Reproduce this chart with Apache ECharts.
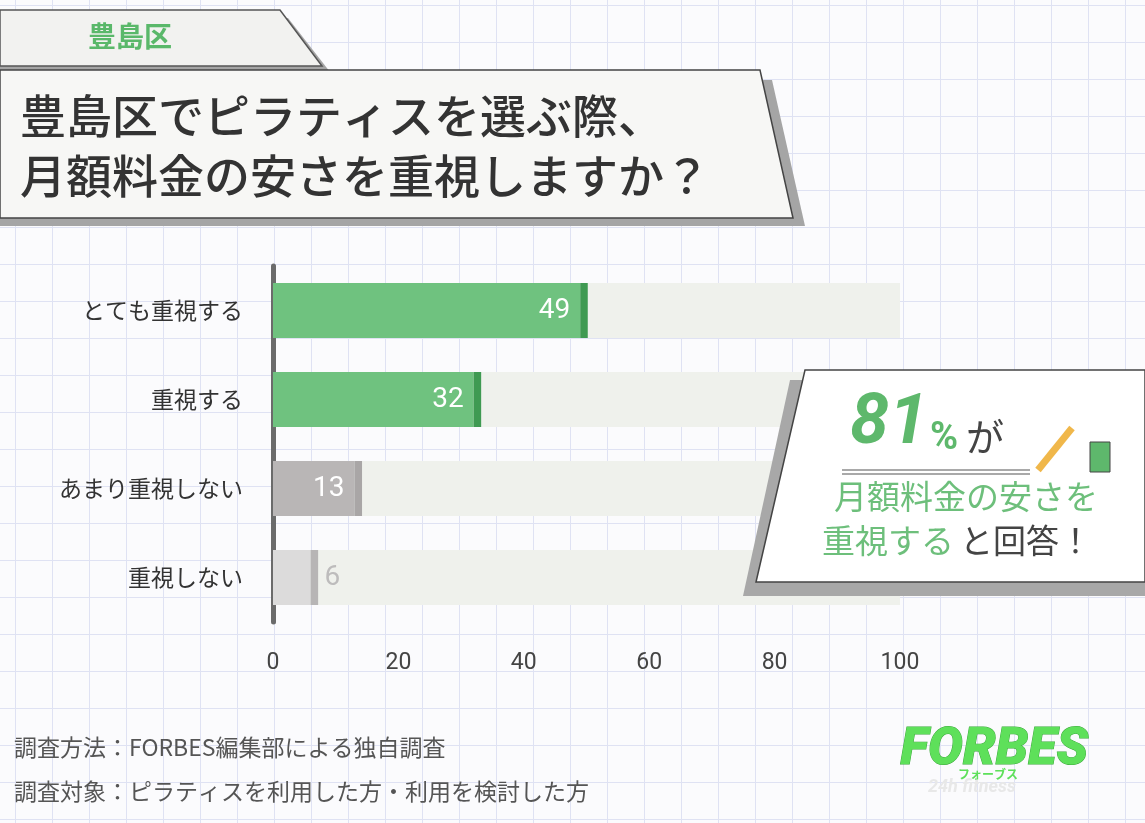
<!DOCTYPE html>
<html><head><meta charset="utf-8">
<script src="https://cdn.jsdelivr.net/npm/echarts@6/dist/echarts.min.js"></script>
<style>
html,body{margin:0;padding:0;}
#c{width:1145px;height:823px;background-color:#fbfbfd;
background-image:linear-gradient(#dfe2f3 1px,transparent 1px),linear-gradient(90deg,#dfe2f3 1px,transparent 1px);
background-size:37px 37px;background-position:15px 5px;}
</style></head><body><div id="c"></div>
<script>
const categories=['とても重視する','重視する','あまり重視しない','重視しない'];
const values=[49,32,13,6];
const tickLabels=['0','20','40','60','80','100'];
const fillColors=['#6fc27f','#6fc27f','#b9b6b6','#dcdbdb'];
const capColors=['#3f9a52','#3f9a52','#a9a6a6','#b7b5b5'];
const labelColors=['#ffffff','#ffffff','#ffffff','#bdbcbc'];
const F='"Noto Sans CJK JP","Noto Sans",sans-serif';
const chart=echarts.init(document.getElementById('c'));
chart.setOption({
 animation:false,
 grid:{left:273,top:266,width:627,height:356},
 xAxis:{type:'value',min:0,max:100,interval:20,
  axisLabel:{fontFamily:'Roboto',fontSize:23,color:'#444',margin:30,formatter:v=>tickLabels[v/20]},
  splitLine:{show:false},axisLine:{show:false},axisTick:{show:false}},
 yAxis:{type:'category',inverse:true,data:categories,
  axisLine:{show:true,lineStyle:{color:'#6b6b6b',width:5}},axisTick:{show:false},
  axisLabel:{fontFamily:F,fontSize:23,color:'#333',margin:30}},
 series:[
  {type:'bar',barWidth:55,barGap:'-100%',silent:true,z:1,
   data:values.map(()=>101),itemStyle:{color:'#eff1ec'}},
  {type:'bar',stack:'s',barWidth:55,z:2,
   data:values.map((v,i)=>({value:v,itemStyle:{color:fillColors[i]},
     label:{show:true,position:i===3?'right':'insideRight',distance:i===3?14:10,
       color:labelColors[i],fontFamily:'Roboto',fontSize:28}}))},
  {type:'bar',stack:'s',barWidth:55,z:2,
   data:values.map((v,i)=>({value:1.2,itemStyle:{color:capColors[i]}}))}
 ],
 graphic:[
  {type:'polygon',z:10,shape:{points:[[0,18],[288,18],[330,72],[0,72]]},style:{fill:'#a5a5a5'}},
  {type:'polygon',z:11,shape:{points:[[0,10],[280,10],[322,66],[0,66]]},style:{fill:'#f2f2f0',stroke:'#555',lineWidth:1.5}},
  {type:'text',z:12,left:88,top:22,style:{text:'豊島区',font:'bold 28px '+F,fill:'#5ab86a'}},
  {type:'polygon',z:10,shape:{points:[[0,80],[772,80],[805,226],[0,226]]},style:{fill:'#a5a5a5'}},
  {type:'polygon',z:11,shape:{points:[[0,70],[760,70],[793,218],[0,218]]},style:{fill:'#f7f7f5',stroke:'#444',lineWidth:1.5}},
  {type:'text',z:12,left:20,top:86,style:{text:'豊島区でピラティスを選ぶ際、\n月額料金の安さを重視しますか？',font:'500 46px '+F,fill:'#333',lineHeight:60}},
  {type:'polygon',z:10,shape:{points:[[790,380],[1145,380],[1145,596],[743,596]]},style:{fill:'#a8a8a8'}},
  {type:'polygon',z:11,shape:{points:[[805,370],[1145,370],[1145,582],[756,582]]},style:{fill:'#ffffff',stroke:'#444',lineWidth:1.5}},
  {type:'text',z:12,left:850,top:390,style:{text:'81',font:'italic bold 70px Roboto',fill:'#5eb86c'}},
  {type:'text',z:12,left:930,top:420,style:{text:'%',font:'bold 38px Roboto',fill:'#5eb86c'}},
  {type:'text',z:12,left:966,top:418,style:{text:'が',font:'38px '+F,fill:'#444'}},
  {type:'line',z:12,shape:{x1:842,y1:470,x2:1030,y2:470},style:{stroke:'#555',lineWidth:1.2}},
  {type:'line',z:12,shape:{x1:842,y1:474,x2:1030,y2:474},style:{stroke:'#555',lineWidth:1.2}},
  {type:'line',z:12,shape:{x1:1038,y1:470,x2:1072,y2:428},style:{stroke:'#f0b74a',lineWidth:7}},
  {type:'rect',z:12,shape:{x:1090,y:442,width:20,height:30},style:{fill:'#5eb86c',stroke:'#444',lineWidth:1}},
  {type:'text',z:12,left:834,top:480,style:{text:'月額料金の安さを',font:'33px '+F,fill:'#6dbf7b'}},
  {type:'text',z:12,left:822,top:524,style:{text:'重視する',font:'33px '+F,fill:'#6dbf7b'}},
  {type:'text',z:12,left:960,top:524,style:{text:'と回答！',font:'33px '+F,fill:'#444'}},
  {type:'text',z:12,left:14,top:736,style:{text:'調査方法：FORBES編集部による独自調査',font:'23px '+F,fill:'#555'}},
  {type:'text',z:12,left:14,top:780,style:{text:'調査対象：ピラティスを利用した方・利用を検討した方',font:'23px '+F,fill:'#555'}},
  {type:'text',z:12,left:900,top:724,style:{text:'FORBES',font:'italic 900 52px Roboto',fill:'#5ee05a',stroke:'#3aa83a',lineWidth:1}},
  {type:'text',z:12,left:958,top:768,style:{text:'フォーブス',font:'bold 12px '+F,fill:'#5ee05a'}},
  {type:'text',z:12,left:928,top:778,style:{text:'24h fitness',font:'italic bold 18px Roboto',fill:'#e8e8e8'}}
 ]
});
</script></body></html>
